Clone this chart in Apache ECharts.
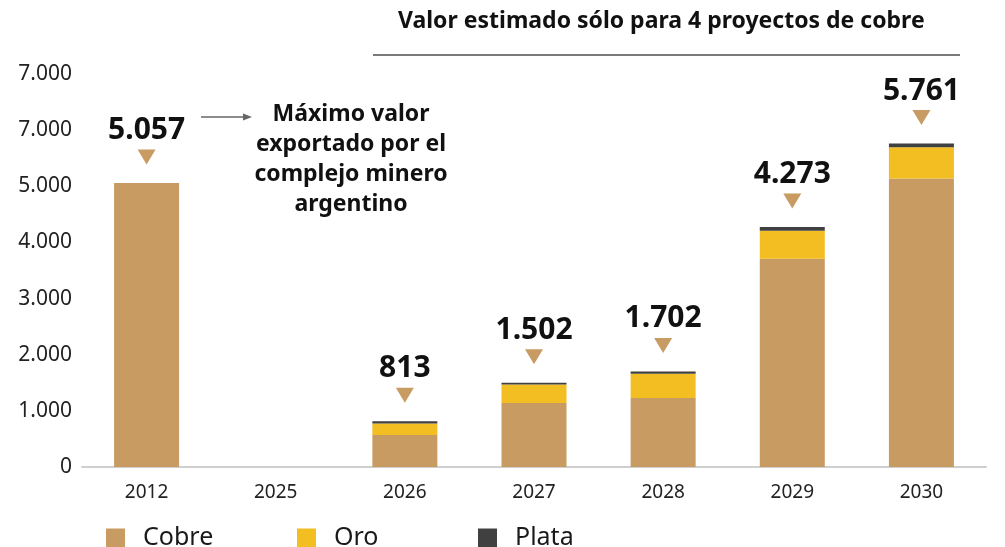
<!DOCTYPE html>
<html lang="es">
<head>
    <meta charset="UTF-8">
    <title>Exportaciones mineras: cobre, oro y plata</title>
    <script src="https://cdn.jsdelivr.net/npm/echarts@6/dist/echarts.min.js"></script>
    <style>
        body {
            margin: 0;
            padding: 0;
            background-color: #ffffff;
            overflow: hidden;
        }
        #chart {
            width: 1005px;
            height: 547px;
        }
    </style>
</head>
<body>
<div id="chart"></div>

<script>
    // datos
    const years = ['2012', '2025', '2026', '2027', '2028', '2029', '2030'];
    const cobre = [5057, null, 570, 1140, 1230, 3710, 5140];
    const oro = [null, null, 205, 330, 430, 500, 555];
    const plata = [null, null, 38, 32, 42, 63, 66];
    const totals = [5057, null, 813, 1502, 1702, 4273, 5761];
    // etiquetas del eje tal como aparecen en la imagen
    const yTickLabels = ['0', '1.000', '2.000', '3.000', '4.000', '5.000', '7.000', '7.000'];

    const COLOR_COBRE = '#C89B63';
    const COLOR_ORO = '#F3BE22';
    const COLOR_PLATA = '#404040';
    const FONT = '"Noto Sans", sans-serif';

    function fmtMiles(v) {
        return String(v).replace(/\B(?=(\d{3})+(?!\d))/g, '.');
    }

    function legendFor(name, left) {
        return {
            data: [name],
            left: left,
            top: 523,
            padding: 0,
            icon: 'rect',
            itemWidth: 19,
            itemHeight: 19,
            itemGap: 0,
            selectedMode: false,
            textStyle: {
                fontFamily: FONT, fontSize: 25, lineHeight: 30,
                color: '#1a1a1a', padding: [0, 0, 0, 13]
            }
        };
    }

    const chart = echarts.init(document.getElementById('chart'));

    chart.setOption({
        animation: false,
        textStyle: { fontFamily: FONT },
        grid: { left: 82, right: 19, top: 74, bottom: 80 },
        legend: [
            legendFor('Cobre', 106),
            legendFor('Oro', 297),
            legendFor('Plata', 478)
        ],
        xAxis: {
            type: 'category',
            data: years,
            axisLine: { lineStyle: { color: '#cfcfcf', width: 2 } },
            axisTick: { show: false },
            axisLabel: { fontSize: 19, color: '#222', margin: 16 }
        },
        yAxis: {
            type: 'value',
            min: 0,
            max: 7000,
            interval: 1000,
            splitLine: { show: false },
            axisLine: { show: false },
            axisLabel: {
                fontSize: 21,
                color: '#222',
                margin: 10,
                formatter: v => yTickLabels[Math.round(v / 1000)]
            }
        },
        series: [
            {
                name: 'Cobre', type: 'bar', stack: 'total', data: cobre,
                barWidth: 65, itemStyle: { color: COLOR_COBRE }
            },
            {
                name: 'Oro', type: 'bar', stack: 'total', data: oro,
                barWidth: 65, itemStyle: { color: COLOR_ORO }
            },
            {
                name: 'Plata', type: 'bar', stack: 'total', data: plata,
                barWidth: 65, itemStyle: { color: COLOR_PLATA }
            },
            {
                // triángulo y total sobre cada barra
                name: 'Total', type: 'scatter', data: totals,
                symbol: 'path://M0,0L18,0L9,15Z',
                symbolSize: [18, 15],
                symbolOffset: [0, -26],
                itemStyle: { color: COLOR_COBRE, opacity: 1 },
                label: {
                    show: true,
                    position: 'top',
                    distance: 4,
                    fontSize: 30,
                    fontWeight: 'bold',
                    color: '#111',
                    formatter: p => fmtMiles(p.value)
                },
                z: 5
            }
        ],
        graphic: [
            {
                type: 'text',
                left: 398, top: 10,
                style: {
                    text: 'Valor estimado sólo para 4 proyectos de cobre',
                    font: 'bold 23px ' + FONT,
                    fill: '#111'
                }
            },
            {
                type: 'line',
                shape: { x1: 373, y1: 55, x2: 960, y2: 55 },
                style: { stroke: '#7a7a7a', lineWidth: 2 }
            },
            {
                type: 'text',
                x: 351, y: 99,
                style: {
                    text: 'Máximo valor\nexportado por el\ncomplejo minero\nargentino',
                    font: 'bold 23px ' + FONT,
                    lineHeight: 30,
                    align: 'center',
                    verticalAlign: 'top',
                    fill: '#111'
                }
            },
            {
                type: 'line',
                shape: { x1: 201, y1: 117, x2: 244, y2: 117 },
                style: { stroke: '#666', lineWidth: 1.5 }
            },
            {
                type: 'polygon',
                shape: { points: [[243, 113.5], [252, 117], [243, 120.5]] },
                style: { fill: '#666' }
            }
        ]
    });
</script>
</body>
</html>
